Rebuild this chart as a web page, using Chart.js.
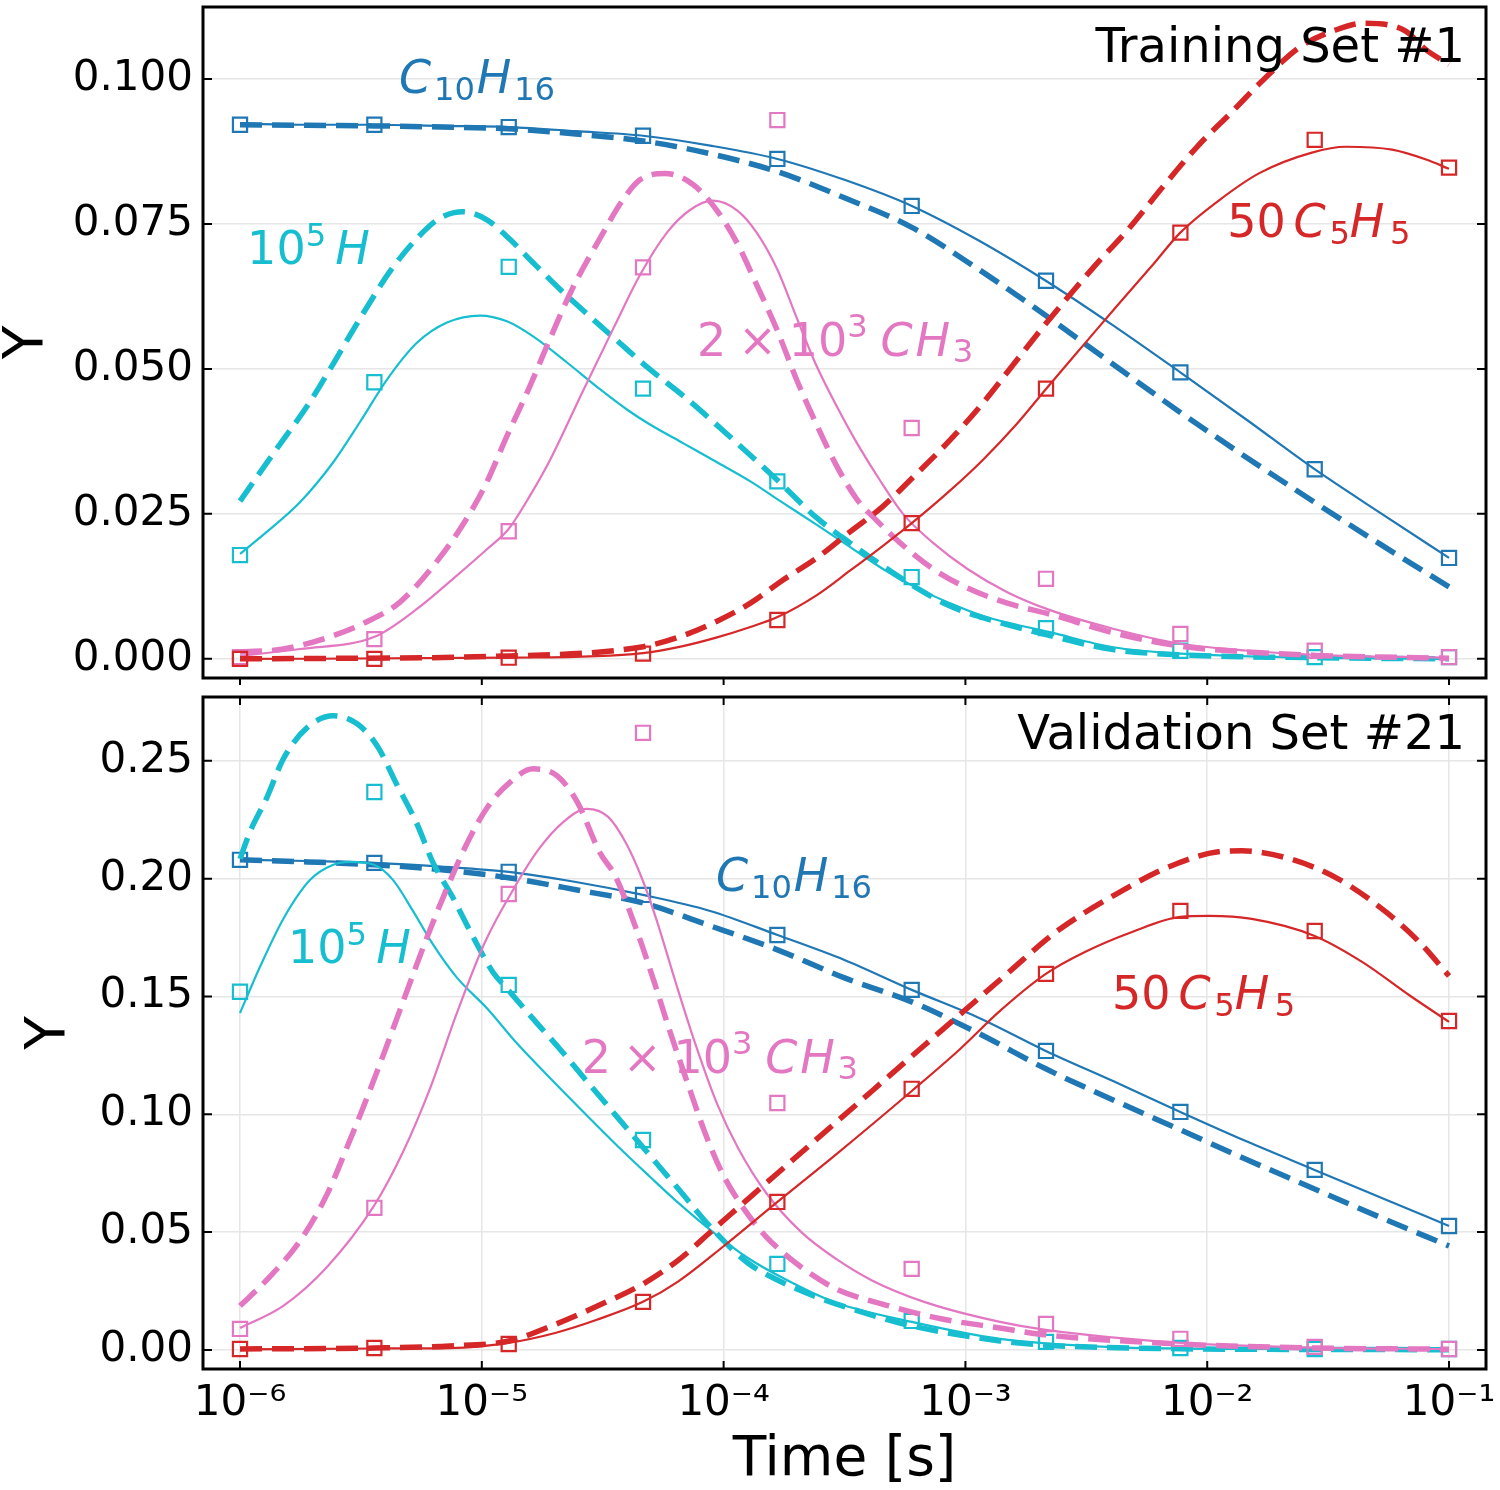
<!DOCTYPE html>
<html><head><meta charset="utf-8">
<script src="https://cdn.jsdelivr.net/npm/chart.js@4/dist/chart.umd.min.js"></script>
<style>
html,body{margin:0;padding:0;background:#fff;}
#wrap{position:relative;width:1500px;height:1490px;background:#fff;}
#c1{position:absolute;left:0;top:0;width:1500px;height:690px;}
#c2{position:absolute;left:0;top:690px;width:1500px;height:800px;}
</style></head><body>
<div id="wrap"><canvas id="c1" width="1500" height="690"></canvas><canvas id="c2" width="1500" height="800"></canvas></div>
<script>
// ---------- axes ----------
const xTicks = [1e-6, 1e-5, 1e-4, 1e-3, 1e-2, 1e-1];
const xTickLabels = ['10\u207B\u2076', '10\u207B\u2075', '10\u207B\u2074', '10\u207B\u00B3', '10\u207B\u00B2', '10\u207B\u00B9'];
const topYTicks = [0, 0.025, 0.05, 0.075, 0.1];
const bottomYTicks = [0, 0.05, 0.10, 0.15, 0.20, 0.25];

// marker times (reference samples)
const tMarks = [1e-6, 3.594e-6, 1.292e-5, 4.642e-5, 1.668e-4, 5.995e-4, 2.154e-3, 7.743e-3, 2.783e-2, 1e-1];

// ---------- Training Set #1 ----------
const trainC10H16Solid = [[1.0e-6,0.0923],[1.9e-6,0.0921],[3.6e-6,0.0921],[6.8e-6,0.0919],[1.29e-5,0.0917],[2.45e-5,0.0910],[4.64e-5,0.0902],[8.8e-5,0.0885],[1.67e-4,0.0862],[3.16e-4,0.0826],[6.0e-4,0.0781],[1.14e-3,0.0721],[2.15e-3,0.0652],[4.08e-3,0.0575],[7.74e-3,0.0494],[1.47e-2,0.0411],[2.78e-2,0.0327],[5.27e-2,0.0250],[1.0e-1,0.0174]];
const trainC10H16Dashed = [[1.0e-6,0.0921],[1.9e-6,0.0920],[3.6e-6,0.0919],[6.8e-6,0.0917],[1.29e-5,0.0914],[2.45e-5,0.0905],[4.64e-5,0.0893],[8.8e-5,0.0871],[1.67e-4,0.0840],[3.16e-4,0.0795],[6.0e-4,0.0744],[1.14e-3,0.0671],[2.15e-3,0.0592],[4.08e-3,0.0508],[7.74e-3,0.0425],[1.47e-2,0.0346],[2.78e-2,0.0270],[5.27e-2,0.0196],[1.0e-1,0.0124]];
const trainC10H16Marks = [0.0921,0.0921,0.0917,0.0902,0.0862,0.0781,0.0652,0.0494,0.0327,0.0174];

const trainHSolid = [[1.0e-6,0.0181],[1.29e-6,0.0219],[1.77e-6,0.0270],[2.43e-6,0.0339],[3.13e-6,0.0408],[4.06e-6,0.0482],[5.39e-6,0.0545],[7.18e-6,0.0580],[9.84e-6,0.0592],[1.27e-5,0.0582],[1.63e-5,0.0556],[2.25e-5,0.0511],[3.08e-5,0.0465],[3.98e-5,0.0430],[4.96e-5,0.0404],[6.79e-5,0.0372],[9.39e-5,0.0339],[1.29e-4,0.0306],[1.76e-4,0.0269],[2.43e-4,0.0231],[3.33e-4,0.0193],[4.56e-4,0.0155],[6.31e-4,0.0122],[8.63e-4,0.0096],[1.18e-3,0.0074],[2.24e-3,0.0046],[4.08e-3,0.0020],[7.74e-3,0.0009],[2.78e-2,0.0002],[1.0e-1,0.0000]];
const trainHDashed = [[1.0e-6,0.0272],[1.29e-6,0.0338],[1.51e-6,0.0378],[1.89e-6,0.0435],[2.36e-6,0.0500],[2.85e-6,0.0558],[3.45e-6,0.0615],[4.17e-6,0.0668],[5.39e-6,0.0725],[6.71e-6,0.0760],[8.36e-6,0.0771],[1.05e-5,0.0757],[1.31e-5,0.0723],[1.63e-5,0.0683],[2.11e-5,0.0637],[2.72e-5,0.0595],[3.62e-5,0.0549],[4.96e-5,0.0499],[6.79e-5,0.0454],[9.39e-5,0.0403],[1.29e-4,0.0351],[1.67e-4,0.0308],[2.43e-4,0.0243],[3.33e-4,0.0200],[4.56e-4,0.0160],[6.31e-4,0.0122],[8.63e-4,0.0091],[1.18e-3,0.0071],[2.24e-3,0.0040],[4.08e-3,0.0016],[7.74e-3,0.0007],[2.78e-2,0.0002],[1.0e-1,0.0000]];
const trainHMarks = [0.0179,0.0477,0.0676,0.0466,0.0306,0.0141,0.0053,0.0014,0.0003,0.0003];

const trainCH3Solid = [[1.0e-6,0.0005],[1.77e-6,0.0017],[3.6e-6,0.0038],[5.39e-6,0.0086],[7.6e-6,0.0138],[1.05e-5,0.0189],[1.29e-5,0.0224],[1.58e-5,0.0281],[1.91e-5,0.0342],[2.62e-5,0.0462],[3.52e-5,0.0572],[4.51e-5,0.0662],[5.83e-5,0.0735],[7.26e-5,0.0774],[9.04e-5,0.0790],[1.14e-4,0.0773],[1.37e-4,0.0735],[1.67e-4,0.0671],[2.01e-4,0.0587],[2.43e-4,0.0504],[2.94e-4,0.0435],[3.56e-4,0.0372],[4.43e-4,0.0308],[5.52e-4,0.0250],[7.35e-4,0.0200],[1.02e-3,0.0155],[1.49e-3,0.0115],[2.24e-3,0.0084],[4.08e-3,0.0052],[7.74e-3,0.0026],[1.47e-2,0.0014],[2.78e-2,0.0007],[1.0e-1,0.0002]];
const trainCH3Dashed = [[1.0e-6,0.0012],[1.51e-6,0.0017],[2.43e-6,0.0040],[3.35e-6,0.0064],[4.59e-6,0.0098],[6.29e-6,0.0160],[8.13e-6,0.0224],[1.03e-5,0.0298],[1.27e-5,0.0384],[1.58e-5,0.0470],[1.91e-5,0.0551],[2.38e-5,0.0640],[3.08e-5,0.0725],[3.84e-5,0.0792],[4.51e-5,0.0826],[5.72e-5,0.0837],[7.47e-5,0.0818],[9.39e-5,0.0773],[1.14e-4,0.0716],[1.37e-4,0.0645],[1.66e-4,0.0568],[2.01e-4,0.0480],[2.43e-4,0.0403],[2.94e-4,0.0332],[3.56e-4,0.0275],[4.31e-4,0.0238],[5.37e-4,0.0200],[7.35e-4,0.0155],[1.02e-3,0.0122],[1.49e-3,0.0096],[2.24e-3,0.0077],[4.08e-3,0.0045],[7.74e-3,0.0022],[1.47e-2,0.0012],[2.78e-2,0.0006],[1.0e-1,0.0001]];
const trainCH3Marks = [0.0003,0.0034,0.0220,0.0675,0.0929,0.0398,0.0138,0.0043,0.0014,0.0003];

const trainC5H5Solid = [[1.0e-6,0.0000],[1.29e-5,0.0002],[4.64e-5,0.0010],[6.79e-5,0.0022],[9.39e-5,0.0037],[1.29e-4,0.0055],[1.67e-4,0.0072],[2.43e-4,0.0110],[3.33e-4,0.0152],[4.56e-4,0.0195],[6.0e-4,0.0234],[8.63e-4,0.0290],[1.18e-3,0.0343],[1.63e-3,0.0405],[2.15e-3,0.0465],[3.21e-3,0.0550],[4.24e-3,0.0609],[5.86e-3,0.0676],[7.74e-3,0.0735],[1.13e-2,0.0792],[1.65e-2,0.0838],[2.71e-2,0.0873],[3.75e-2,0.0883],[5.81e-2,0.0878],[8.04e-2,0.0861],[1.0e-1,0.0845]];
const trainC5H5Dashed = [[1.0e-6,0.0000],[1.29e-5,0.0005],[4.64e-5,0.0021],[6.79e-5,0.0040],[9.39e-5,0.0065],[1.29e-4,0.0096],[1.76e-4,0.0136],[2.43e-4,0.0174],[3.33e-4,0.0219],[4.56e-4,0.0263],[6.31e-4,0.0320],[8.63e-4,0.0377],[1.18e-3,0.0441],[1.63e-3,0.0515],[2.24e-3,0.0587],[3.40e-3,0.0676],[4.70e-3,0.0740],[6.56e-3,0.0814],[9.08e-3,0.0883],[1.25e-2,0.0941],[1.75e-2,0.1003],[2.42e-2,0.1055],[3.38e-2,0.1084],[4.41e-2,0.1096],[6.52e-2,0.1084],[8.04e-2,0.1050],[1.0e-1,0.1025]];
const trainC5H5Marks = [0.0000,0.0000,0.0002,0.0009,0.0067,0.0234,0.0466,0.0735,0.0895,0.0847];

// ---------- Validation Set #21 ----------
const valC10H16Solid = [[1.0e-6,0.2080],[1.9e-6,0.2075],[3.6e-6,0.2067],[6.8e-6,0.2051],[1.29e-5,0.2029],[2.45e-5,0.1986],[4.64e-5,0.1931],[8.8e-5,0.1863],[1.67e-4,0.1761],[3.16e-4,0.1655],[6.0e-4,0.1528],[1.14e-3,0.1409],[2.15e-3,0.1269],[4.08e-3,0.1141],[7.74e-3,0.1010],[1.47e-2,0.0883],[2.78e-2,0.0764],[5.27e-2,0.0645],[1.0e-1,0.0526]];
const valC10H16Dashed = [[1.0e-6,0.2080],[1.9e-6,0.2071],[3.6e-6,0.2059],[6.8e-6,0.2038],[1.29e-5,0.2004],[2.45e-5,0.1953],[4.64e-5,0.1897],[8.8e-5,0.1800],[1.67e-4,0.1698],[3.16e-4,0.1579],[6.0e-4,0.1477],[1.14e-3,0.1342],[2.15e-3,0.1193],[4.08e-3,0.1061],[7.74e-3,0.0934],[1.47e-2,0.0806],[2.78e-2,0.0683],[5.27e-2,0.0560],[1.0e-1,0.0441]];
const valC10H16Marks = [0.2080,0.2067,0.2029,0.1931,0.1761,0.1528,0.1269,0.1010,0.0764,0.0526];

const valHSolid = [[1.0e-6,0.1430],[1.21e-6,0.1626],[1.51e-6,0.1829],[1.95e-6,0.1995],[2.43e-6,0.2059],[2.85e-6,0.2071],[3.58e-6,0.2059],[4.29e-6,0.1995],[5.19e-6,0.1863],[6.29e-6,0.1720],[7.89e-6,0.1580],[1.05e-5,0.1450],[1.40e-5,0.1300],[1.91e-5,0.1155],[2.72e-5,0.0995],[3.73e-5,0.0855],[4.96e-5,0.0735],[6.48e-5,0.0625],[9.04e-5,0.0500],[1.26e-4,0.0390],[1.76e-4,0.0305],[2.92e-4,0.0200],[6.0e-4,0.0119],[1.39e-3,0.0047],[4.08e-3,0.0012],[1.47e-2,0.0004],[1.0e-1,0.0001]];
const valHDashed = [[1.0e-6,0.2084],[1.10e-6,0.2199],[1.29e-6,0.2343],[1.51e-6,0.2508],[1.89e-6,0.2640],[2.43e-6,0.2691],[3.05e-6,0.2657],[3.69e-6,0.2564],[4.46e-6,0.2398],[5.39e-6,0.2233],[6.29e-6,0.2067],[7.60e-6,0.1919],[9.20e-6,0.1753],[1.11e-5,0.1604],[1.28e-5,0.1530],[1.63e-5,0.1405],[2.11e-5,0.1275],[2.72e-5,0.1140],[3.62e-5,0.0990],[4.64e-5,0.0860],[6.48e-5,0.0685],[9.04e-5,0.0510],[1.26e-4,0.0369],[1.67e-4,0.0297],[2.48e-4,0.0221],[4.07e-4,0.0149],[6.0e-4,0.0102],[1.39e-3,0.0038],[2.15e-3,0.0020],[7.74e-3,0.0005],[2.78e-2,0.0002],[1.0e-1,0.0001]];
const valHMarks = [0.1520,0.2368,0.1549,0.0891,0.0365,0.0123,0.0034,0.0008,0.0004,0.0004];

const valCH3Solid = [[1.0e-6,0.0093],[1.51e-6,0.0187],[2.29e-6,0.0352],[3.58e-6,0.0611],[4.72e-6,0.0840],[6.11e-6,0.1110],[7.89e-6,0.1430],[1.03e-5,0.1730],[1.36e-5,0.1960],[1.72e-5,0.2125],[2.17e-5,0.2240],[2.72e-5,0.2296],[3.33e-5,0.2262],[3.95e-5,0.2150],[4.64e-5,0.1990],[5.30e-5,0.1820],[6.29e-5,0.1570],[7.69e-5,0.1290],[9.39e-5,0.1045],[1.15e-4,0.0855],[1.50e-4,0.0666],[2.09e-4,0.0501],[2.92e-4,0.0386],[4.07e-4,0.0297],[6.75e-4,0.0204],[1.39e-3,0.0119],[2.15e-3,0.0085],[7.74e-3,0.0030],[2.78e-2,0.0010],[1.0e-1,0.0003]];
const valCH3Dashed = [[1.0e-6,0.0187],[1.29e-6,0.0297],[1.77e-6,0.0463],[2.29e-6,0.0660],[2.77e-6,0.0860],[3.35e-6,0.1070],[4.06e-6,0.1295],[4.91e-6,0.1525],[5.93e-6,0.1750],[7.18e-6,0.1960],[8.69e-6,0.2150],[1.05e-5,0.2300],[1.31e-5,0.2410],[1.63e-5,0.2466],[2.05e-5,0.2436],[2.48e-5,0.2326],[3.08e-5,0.2110],[3.56e-5,0.2012],[4.34e-5,0.1790],[5.15e-5,0.1565],[6.05e-5,0.1340],[7.19e-5,0.1115],[8.46e-5,0.0910],[1.0e-4,0.0739],[1.23e-4,0.0590],[1.50e-4,0.0480],[2.09e-4,0.0352],[2.92e-4,0.0259],[4.83e-4,0.0187],[7.93e-4,0.0132],[1.39e-3,0.0093],[2.15e-3,0.0064],[7.74e-3,0.0025],[2.78e-2,0.0008],[1.0e-1,0.0003]];
const valCH3Marks = [0.0089,0.0603,0.1935,0.2619,0.1048,0.0344,0.0110,0.0047,0.0013,0.0004];

const valC5H5Solid = [[1.0e-6,0.0002],[3.6e-6,0.0006],[7.38e-6,0.0008],[1.29e-5,0.0030],[2.01e-5,0.0072],[2.99e-5,0.0128],[4.64e-5,0.0204],[6.48e-5,0.0290],[1.0e-4,0.0440],[1.67e-4,0.0628],[2.92e-4,0.0830],[6.0e-4,0.1099],[9.41e-4,0.1273],[1.39e-3,0.1439],[2.15e-3,0.1596],[3.12e-3,0.1689],[4.89e-3,0.1774],[7.74e-3,0.1838],[1.02e-2,0.1842],[1.53e-2,0.1829],[2.78e-2,0.1757],[4.37e-2,0.1647],[6.90e-2,0.1503],[1.0e-1,0.1392]];
const valC5H5Dashed = [[1.0e-6,0.0004],[3.6e-6,0.0008],[7.38e-6,0.0017],[1.29e-5,0.0038],[2.01e-5,0.0108],[2.99e-5,0.0185],[4.64e-5,0.0280],[6.48e-5,0.0380],[9.04e-5,0.0510],[1.26e-4,0.0640],[1.76e-4,0.0770],[2.48e-4,0.0903],[3.46e-4,0.1032],[4.83e-4,0.1162],[6.75e-4,0.1292],[9.41e-4,0.1420],[1.50e-3,0.1600],[2.37e-3,0.1774],[4.08e-3,0.1927],[7.08e-3,0.2054],[1.11e-2,0.2114],[1.39e-2,0.2118],[2.20e-2,0.2084],[3.48e-2,0.1999],[5.48e-2,0.1859],[7.52e-2,0.1732],[1.0e-1,0.1587]];
const valC5H5Marks = [0.0004,0.0008,0.0025,0.0204,0.0628,0.1108,0.1596,0.1863,0.1778,0.1396];

// ---------- styling ----------
const COL = {c10h16:'#1f77b4', h:'#17becf', ch3:'#e377c2', c5h5:'#d62728'};
const GRID = '#e6e6e6';
const FONT = '"DejaVu Sans", sans-serif';
Chart.defaults.font.family = FONT;
Chart.defaults.color = '#000';

const X_MIN = 7.03e-7, X_MAX = 0.1422;

function pts(arr){ return arr.map(p => ({x:p[0], y:p[1]})); }
function markPts(vals){ return vals.map((v,i) => ({x:tMarks[i], y:v})); }

function species(color, solid, dashed, marks){
  return [
    {data: markPts(marks), showLine:false, pointStyle:'rect', pointRadius:10, pointHoverRadius:10, pointBorderWidth:2.2,
     pointBorderColor:color, pointBackgroundColor:'rgba(0,0,0,0)', borderColor:color, backgroundColor:'rgba(0,0,0,0)'},
    {data: pts(dashed), borderColor:color, borderWidth:5.5, borderDash:[22,10], borderCapStyle:'butt',
     pointRadius:0, pointHoverRadius:0, cubicInterpolationMode:'monotone', fill:false},
    {data: pts(solid), borderColor:color, borderWidth:2.2, pointRadius:0, pointHoverRadius:0, cubicInterpolationMode:'monotone', fill:false}
  ];
}

// rich text (sub/superscripts, italics) drawn on the canvas
const PART = {
  C10H16: [{t:'C',it:1},{t:'10',s:0.7,dy:0.15,g:0.06},{t:'H',it:1,g:0.04},{t:'16',s:0.7,dy:0.15,g:0.06}],
  H: [{t:'10'},{t:'5',s:0.7,dy:-0.41},{t:'H',it:1,g:0.2}],
  CH3: [{t:'2'},{t:'\u00D7',g:0.26},{t:'10',g:0.26},{t:'3',s:0.7,dy:-0.41},{t:'C',it:1,g:0.28},{t:'H',it:1,g:0.06},{t:'3',s:0.7,dy:0.15,g:0.06}],
  C5H5: [{t:'50'},{t:'C',it:1,g:0.17},{t:'5',s:0.7,dy:0.15,g:0.08},{t:'H',it:1,g:0.0},{t:'5',s:0.7,dy:0.15,g:0.12}]
};

function richWidth(ctx, parts, size){
  let w = 0;
  parts.forEach(p => { w += (p.g||0)*size; ctx.font = (p.it?'italic ':'') + (size*(p.s||1)) + 'px ' + FONT; w += ctx.measureText(p.t).width; });
  return w;
}
function drawRich(ctx, x, y, parts, size, color, align){
  let cx = x;
  if (align === 'right') cx = x - richWidth(ctx, parts, size);
  ctx.fillStyle = color;
  parts.forEach(p => {
    cx += (p.g||0)*size;
    ctx.font = (p.it?'italic ':'') + (size*(p.s||1)) + 'px ' + FONT;
    ctx.fillText(p.t, cx, y + (p.dy||0)*size);
    cx += ctx.measureText(p.t).width;
  });
}

function makePlugins(labels, xOut){
  return [{
    id:'frameAndLabels',
    afterDatasetsDraw(chart){
      const {ctx, chartArea:a, scales} = chart;
      ctx.save();
      ctx.strokeStyle = '#000';
      ctx.lineWidth = 2;
      ctx.beginPath();
      scales.y.ticks.forEach(t => {
        const y = scales.y.getPixelForValue(t.value);
        ctx.moveTo(a.left, y); ctx.lineTo(a.left + 9, y);
        ctx.moveTo(a.right, y); ctx.lineTo(a.right - 9, y);
      });
      scales.x.ticks.forEach(t => {
        const x = scales.x.getPixelForValue(t.value);
        if (xOut) { ctx.moveTo(x, a.bottom); ctx.lineTo(x, a.bottom + 7); }
        else {
          ctx.moveTo(x, a.bottom); ctx.lineTo(x, a.bottom - 8);
          ctx.moveTo(x, a.top); ctx.lineTo(x, a.top + 8);
        }
      });
      ctx.stroke();
      ctx.lineWidth = 3;
      ctx.strokeRect(a.left, a.top, a.right - a.left, a.bottom - a.top);
      ctx.textBaseline = 'alphabetic';
      labels.forEach(l => {
        const x = scales.x.getPixelForValue(l.t);
        const y = scales.y.getPixelForValue(l.v);
        if (l.text) {
          ctx.font = l.size + 'px ' + FONT; ctx.fillStyle = l.color;
          ctx.textAlign = l.align || 'left';
          ctx.fillText(l.text, x, y);
          ctx.textAlign = 'left';
        } else {
          drawRich(ctx, x, y, l.parts, l.size, l.color, l.align);
        }
      });
      ctx.restore();
    }
  }];
}

function makeChart(canvas, cfg){
  return new Chart(canvas, {
    type:'line',
    data:{datasets: cfg.datasets},
    options:{
      responsive:false, animation:false, devicePixelRatio:1,
      events:[],
      layout:{autoPadding:false, padding:{left:0, right:14, top:7, bottom:0}},
      plugins:{legend:{display:false}, tooltip:{enabled:false}},
      elements:{line:{borderCapStyle:'butt'}},
      scales:{
        x:{type:'logarithmic', min:X_MIN, max:X_MAX,
           afterBuildTicks: s => { s.ticks = xTicks.map(v => ({value:v})); },
           afterFit: s => { s.height = cfg.xHeight; s.paddingLeft = 0; s.paddingRight = 0; },
           grid:{display:cfg.xGrid, color:GRID, lineWidth:1.5, drawTicks:false},
           border:{display:false},
           ticks:{display:cfg.xLabels, autoSkip:false, maxRotation:0, minRotation:0, padding:14,
                  font:{size:42, lineHeight:1}, color:'#000', callback:(v,i) => xTickLabels[i]},
           title:{display:cfg.xLabels, text:'Time [s]', font:{size:55, lineHeight:1}, color:'#000', padding:{top:0, bottom:2}}},
        y:{type:'linear', min:cfg.yMin, max:cfg.yMax,
           afterBuildTicks: s => { s.ticks = cfg.yTicks.map(v => ({value:v})); },
           afterFit: s => { s.width = 203; s.paddingTop = 0; s.paddingBottom = 0; },
           grid:{color:GRID, lineWidth:1.5, drawTicks:false},
           border:{display:false},
           ticks:{padding:10, font:{size:42, lineHeight:1}, color:'#000', callback:v => Number(v).toFixed(cfg.yDec)},
           title:{display:true, text:'Y', font:{size:55, lineHeight:1}, color:'#000', padding:{top:cfg.yTitlePad, bottom:0}}}
      }
    },
    plugins: makePlugins(cfg.labels, cfg.xOut)
  });
}

makeChart(document.getElementById('c1'), {
  datasets:[].concat(
    species(COL.c5h5, trainC5H5Solid, trainC5H5Dashed, trainC5H5Marks),
    species(COL.ch3, trainCH3Solid, trainCH3Dashed, trainCH3Marks),
    species(COL.h, trainHSolid, trainHDashed, trainHMarks),
    species(COL.c10h16, trainC10H16Solid, trainC10H16Dashed, trainC10H16Marks)),
  yMin:-0.0033, yMax:0.1124, yTicks:topYTicks, yDec:3, yTitlePad:0,
  xHeight:12, xGrid:false, xLabels:false, xOut:true,
  labels:[
    {text:'Training Set #1', t:0.1164, v:0.1029, size:48, color:'#000', align:'right'},
    {parts:PART.C10H16, t:4.55e-6, v:0.0976, size:46, color:COL.c10h16},
    {parts:PART.H, t:1.07e-6, v:0.0680, size:46, color:COL.h},
    {parts:PART.CH3, t:7.76e-5, v:0.0523, size:46, color:COL.ch3},
    {parts:PART.C5H5, t:1.21e-2, v:0.0728, size:46, color:COL.c5h5}
  ]
});

makeChart(document.getElementById('c2'), {
  datasets:[].concat(
    species(COL.c5h5, valC5H5Solid, valC5H5Dashed, valC5H5Marks),
    species(COL.ch3, valCH3Solid, valCH3Dashed, valCH3Marks),
    species(COL.h, valHSolid, valHDashed, valHMarks),
    species(COL.c10h16, valC10H16Solid, valC10H16Dashed, valC10H16Marks)),
  yMin:-0.0081, yMax:0.2771, yTicks:bottomYTicks, yDec:2, yTitlePad:22,
  xHeight:121, xGrid:true, xLabels:true, xOut:false,
  labels:[
    {text:'Validation Set #21', t:0.1164, v:0.2550, size:48, color:'#000', align:'right'},
    {parts:PART.C10H16, t:9.31e-5, v:0.1946, size:46, color:COL.c10h16},
    {parts:PART.H, t:1.58e-6, v:0.1640, size:46, color:COL.h},
    {parts:PART.CH3, t:2.59e-5, v:0.1177, size:46, color:COL.ch3},
    {parts:PART.C5H5, t:4.04e-3, v:0.1445, size:46, color:COL.c5h5}
  ]
});
</script>
</body></html>
